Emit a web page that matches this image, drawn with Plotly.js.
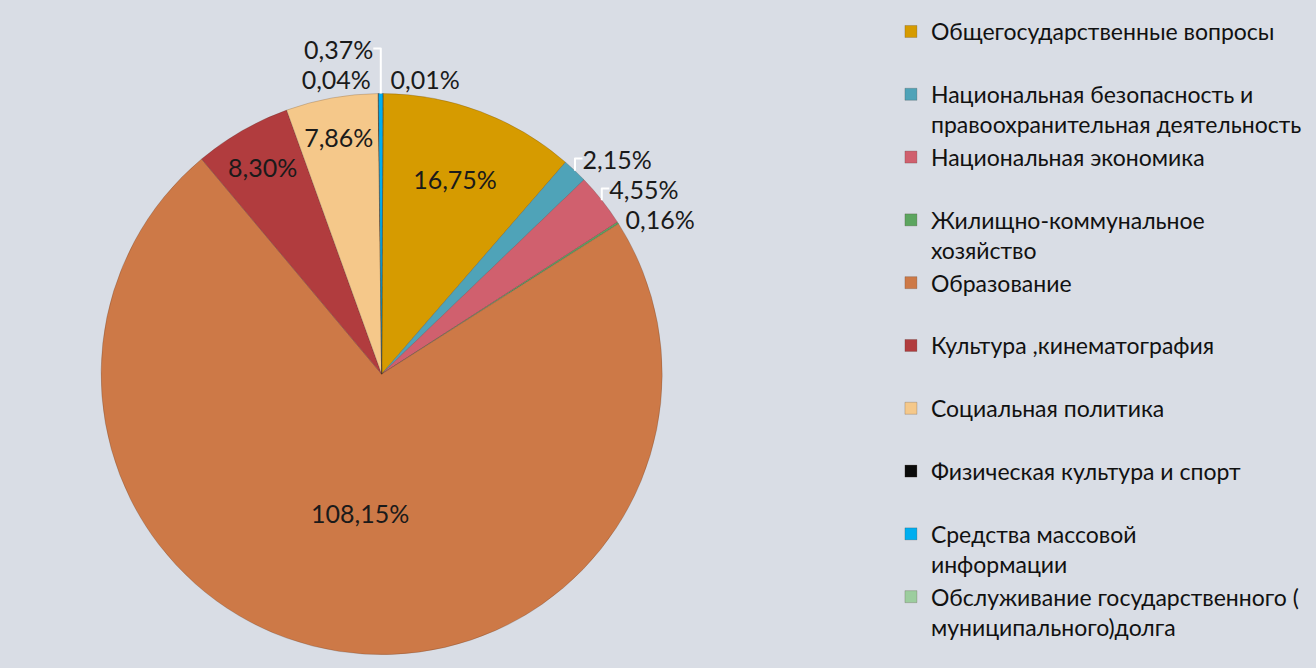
<!DOCTYPE html>
<html>
<head>
<meta charset="utf-8">
<script src="https://cdn.plot.ly/plotly-3.0.1.min.js"></script>
<style>
html,body{margin:0;padding:0;background:#d9dde5;}
#chart{width:1316px;height:668px;}
</style>
</head>
<body>
<div id="chart"></div>
<script>
const categories = [
  "Общегосударственные вопросы",
  "Национальная безопасность и<br>правоохранительная деятельность",
  "Национальная экономика",
  "Жилищно-коммунальное<br>хозяйство",
  "Образование",
  "Культура ,кинематография",
  "Социальная политика",
  "Физическая культура и спорт",
  "Средства массовой<br>информации",
  "Обслуживание государственного (<br>муниципального)долга"
];
const values = [16.75, 2.15, 4.55, 0.16, 108.15, 8.30, 7.86, 0.04, 0.37, 0.01];
const colors = ["#d69b00", "#4fa3b8", "#d0606e", "#5ca55f", "#cd7947", "#b13c3e", "#f5c88a", "#0a0a0a", "#00aeef", "#9ccd9e"];
const textPositions = ["inside", "outside", "outside", "outside", "inside", "inside", "inside", "outside", "outside", "outside"];

// pad single-line legend entries to two lines so every entry has the same height
const legendNames = categories.map(c => c.indexOf("<br>") >= 0 ? c : c + "<br>\u00a0");

const trace = {
  type: "pie",
  labels: legendNames,
  values: values,
  sort: false,
  direction: "clockwise",
  rotation: 0.3,
  marker: {colors: colors, line: {color: "rgba(60,40,30,0.35)", width: 0.6}},
  texttemplate: "<span style='color:#1a1a1a'>%{value:.2f}%</span>",
  textposition: textPositions,
  insidetextorientation: "horizontal",
  textfont: {family: "Lato, 'Open Sans', sans-serif", size: 25, color: "#1a1a1a"},
  outsidetextfont: {family: "Lato, 'Open Sans', sans-serif", size: 25, color: "#ffffff"},
  hoverinfo: "label+value",
  domain: {x: [0.02, 0.56], y: [0.02, 0.86]},
  automargin: false
};

const layout = {
  width: 1316,
  height: 668,
  paper_bgcolor: "#d9dde5",
  plot_bgcolor: "#d9dde5",
  separators: ", ",
  margin: {l: 0, r: 0, t: 0, b: 0},
  showlegend: true,
  legend: {
    x: 0.677, xanchor: "left",
    y: 0.985, yanchor: "top",
    valign: "top",
    font: {family: "Lato, 'Open Sans', sans-serif", size: 23, color: "#111"},
    bgcolor: "rgba(0,0,0,0)",
    itemwidth: 30,
    tracegroupgap: 0
  }
};

Plotly.newPlot("chart", [trace], layout, {displayModeBar: false, staticPlot: true});
</script>
</body>
</html>
